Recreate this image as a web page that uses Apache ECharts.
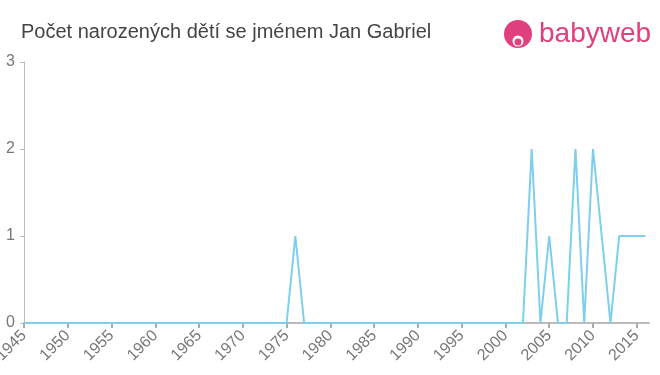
<!DOCTYPE html>
<html><head><meta charset="utf-8">
<script src="https://cdn.jsdelivr.net/npm/echarts@6/dist/echarts.min.js"></script>
<style>html,body{margin:0;padding:0;background:#fff}#c{width:660px;height:375px}</style>
</head><body><div id="c"></div>
<script>
var titleText = "Počet narozených dětí se jménem Jan Gabriel";
var years = [];
for (var y = 1945; y <= 2016; y++) years.push(y);
// counts per year 1945..2016
var counts = [
 0,0,0,0,0, 0,0,0,0,0, 0,0,0,0,0, 0,0,0,0,0, 0,0,0,0,0, 0,0,0,0,0, // 1945-1974
 0,1,0,0,0, // 1975-1979
 0,0,0,0,0, 0,0,0,0,0, 0,0,0,0,0, 0,0,0,0,0, // 1980-1999
 0,0,0,2,0,1,0,0,2,0, // 2000-2009
 2,1,0,1,1,1,1 // 2010-2016
];
var yTicks = [0,1,2,3];
var data = years.map(function(y,i){return [y, counts[i]];});
var chart = echarts.init(document.getElementById('c'));
chart.setOption({
  animation:false,
  backgroundColor:'#fff',
  grid:{left:24,right:11,top:62,bottom:52,containLabel:false,outerBoundsMode:'none'},
  title:{text:titleText,left:16,top:17,textStyle:{fontFamily:'Liberation Sans, Arial',fontSize:20,fontWeight:'normal',color:'#444'}},
  graphic:[
    {type:'circle',shape:{cx:518,cy:34,r:14},style:{fill:'#e0407e'}},
    {type:'circle',shape:{cx:518,cy:41,r:5.5},style:{fill:'#fff'}},
    {type:'circle',shape:{cx:518,cy:42,r:3.5},style:{fill:'#e0407e'}},
    {type:'text',left:539,top:20,style:{text:'babyweb',fontFamily:'Liberation Sans, Arial',fontSize:28,fill:'#e0407e'}}
  ],
  xAxis:{type:'value',min:1945,max:2016.4,interval:5,
    axisLine:{lineStyle:{color:'#bbb',width:2}},
    axisTick:{show:true,inside:false,length:5,lineStyle:{color:'#aaa',width:2}},
    splitLine:{show:false},
    axisLabel:{rotate:45,color:'#777',fontSize:16,fontFamily:'Liberation Sans, Arial',margin:10,showMaxLabel:false,showMinLabel:true,
      formatter:function(v){return Math.abs(v%5)<1e-6?String(v):'';}}
  },
  yAxis:{type:'value',min:0,max:3,interval:1,
    axisLine:{show:true,lineStyle:{color:'#bbb'}},
    axisTick:{show:true,length:4,lineStyle:{color:'#bbb'}},
    splitLine:{show:false},
    axisLabel:{color:'#777',fontSize:16,fontFamily:'Liberation Sans, Arial',margin:9,
      formatter:function(v){return yTicks.indexOf(v)>=0?String(v):'';}}
  },
  series:[{type:'line',data:data,symbol:'none',lineStyle:{color:'#7dcfec',width:2},itemStyle:{color:'#7dcfec'}}]
});
</script></body></html>
